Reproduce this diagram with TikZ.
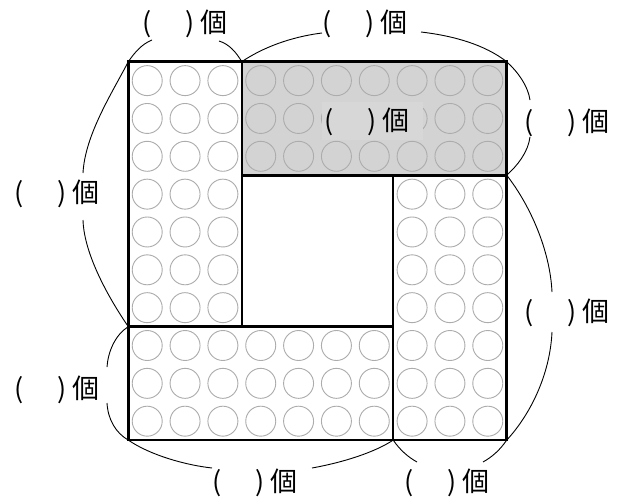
\documentclass[tikz,border=0pt]{standalone}
\usepackage{fontspec}
\newfontfamily\jp{Noto Sans CJK JP}
\definecolor{shadegray}{RGB}{211,211,211}
\definecolor{boxgray}{RGB}{215,215,215}
\definecolor{circgray}{RGB}{172,172,172}
\begin{document}
\begin{tikzpicture}[x=1pt,y=-1pt,
  piece/.style={draw=black,line width=2.6pt},
  cell/.style={draw=circgray,line width=0.9pt},
  arcline/.style={draw=black,line width=0.9pt},
  lbl/.style={anchor=west,inner sep=0pt,font=\jp\fontsize{27}{27}\selectfont}]
\useasboundingbox (0,0) rectangle (627,501);
\fill[white] (0,0) rectangle (627,501);
\def\cs{37.84}
\def\ox{128.3}
\def\oy{61.7}
% shaded piece
\fill[shadegray] (\ox+3*\cs,\oy) rectangle (\ox+10*\cs,\oy+3*\cs);
% circles
\foreach \i in {0,...,9}{\foreach \j in {0,...,9}{
  \pgfmathtruncatemacro\showc{(\i>=3 && \i<=6 && \j>=3 && \j<=6) ? 0 : 1}
  \ifnum\showc=1
    \draw[cell] ({\ox+(\i+0.5)*\cs},{\oy+(\j+0.5)*\cs}) circle[radius=15];
  \fi
}}
% pieces
\draw[piece] (\ox,\oy) rectangle (\ox+3*\cs,\oy+7*\cs);
\draw[piece] (\ox+3*\cs,\oy) rectangle (\ox+10*\cs,\oy+3*\cs);
\draw[piece] (\ox+7*\cs,\oy+3*\cs) rectangle (\ox+10*\cs,\oy+10*\cs);
\draw[piece] (\ox,\oy+7*\cs) rectangle (\ox+7*\cs,\oy+10*\cs);
% corners
\coordinate (TL) at (128.3,61.7);
\coordinate (T3) at (241.8,61.7);
\coordinate (TR) at (506.7,61.7);
\coordinate (R3) at (506.7,175.2);
\coordinate (BR) at (506.7,440.1);
\coordinate (B7) at (393.2,440.1);
\coordinate (BL) at (128.3,440.1);
\coordinate (L7) at (128.3,326.6);
% center label
\fill[boxgray] (322,102) rectangle (423,140);
\node[lbl] (l9) at (324,122) {(\hspace{34pt})\hspace{6pt}個};
% labels
\node[lbl] (l1) at (142,24) {(\hspace{34pt})\hspace{6pt}個};
\node[lbl] (l2) at (322,24) {(\hspace{34pt})\hspace{6pt}個};
\node[lbl] (l3) at (524,123) {(\hspace{34pt})\hspace{6pt}個};
\node[lbl] (l4) at (524,313) {(\hspace{34pt})\hspace{6pt}個};
\node[lbl] (l5) at (14,194) {(\hspace{34pt})\hspace{6pt}個};
\node[lbl] (l6) at (14,390) {(\hspace{34pt})\hspace{6pt}個};
\node[lbl] (l7) at (212,483) {(\hspace{34pt})\hspace{6pt}個};
\node[lbl] (l8) at (404,483) {(\hspace{34pt})\hspace{6pt}個};
% arc ends
\coordinate (a1l) at (152,40);  \coordinate (a1r) at (219,41);
\coordinate (a2l) at (322,33);  \coordinate (a2r) at (421,32);
\coordinate (a3t) at (530,100); \coordinate (a3b) at (530,137);
\coordinate (a4t) at (552,292); \coordinate (a4b) at (552,332);
\coordinate (a5t) at (83,173);  \coordinate (a5b) at (83,220);
\coordinate (a6t) at (107,367); \coordinate (a6b) at (107,403);
\coordinate (a7l) at (212,468); \coordinate (a7r) at (312,468);
\coordinate (a8l) at (417,462); \coordinate (a8r) at (483,462);
% arcs
\draw[arcline] (TL) .. controls (135,52) and (142,44) .. (a1l);
\draw[arcline] (a1r) .. controls (229,44) and (236,52) .. (T3);
\draw[arcline] (T3) .. controls (262,48) and (290,37) .. (a2l);
\draw[arcline] (a2r) .. controls (455,36) and (485,45) .. (TR);
\draw[arcline] (TR) .. controls (518,72) and (528,86) .. (a3t);
\draw[arcline] (a3b) .. controls (528,152) and (518,165) .. (R3);
\draw[arcline] (R3) .. controls (530,205) and (550,250) .. (a4t);
\draw[arcline] (a4b) .. controls (550,375) and (530,415) .. (BR);
\draw[arcline] (TL) .. controls (112,93) and (85,135) .. (a5t);
\draw[arcline] (a5b) .. controls (84,255) and (110,300) .. (L7);
\draw[arcline] (L7) .. controls (115,335) and (108,352) .. (a6t);
\draw[arcline] (a6b) .. controls (108,420) and (116,433) .. (BL);
\draw[arcline] (BL) .. controls (150,455) and (185,465) .. (a7l);
\draw[arcline] (a7r) .. controls (345,462) and (375,452) .. (B7);
\draw[arcline] (B7) .. controls (400,450) and (408,457) .. (a8l);
\draw[arcline] (a8r) .. controls (492,457) and (500,450) .. (BR);
\end{tikzpicture}
\end{document}
